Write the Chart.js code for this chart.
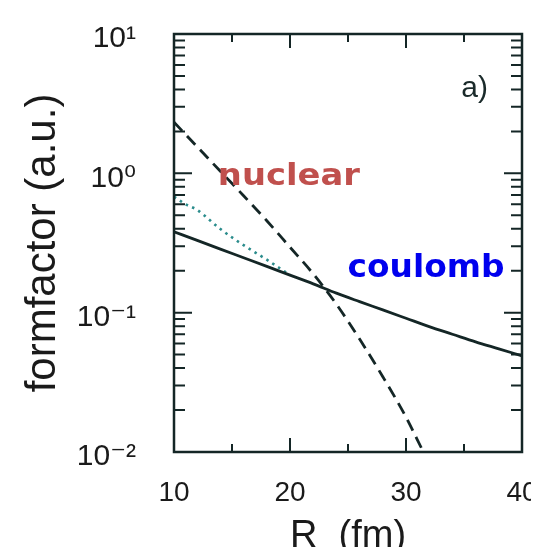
<!DOCTYPE html>
<html lang="en">
<head>
    <meta charset="UTF-8">
    <title>formfactor vs R</title>
    <script src="https://cdn.jsdelivr.net/npm/chart.js@4.4.1/dist/chart.umd.min.js"></script>
    <style>
        html, body { margin: 0; padding: 0; background: #fff; overflow: hidden; }
        #wrap { width: 531px; height: 547px; overflow: hidden; }
    </style>
</head>
<body>
    <div id="wrap"><canvas id="ff" width="542" height="562"></canvas></div>
    <script>
        // values (R in fm, formfactor in a.u.)
        let coulombR = [10, 12, 14, 16, 18, 20, 22, 24, 26, 28, 30, 32, 34, 36, 38, 40];
        let coulombF = [0.381, 0.330, 0.286, 0.248, 0.215, 0.186, 0.161, 0.138, 0.120, 0.1047, 0.0912, 0.0794, 0.0700, 0.0617, 0.0550, 0.0490];

        let dottedR = [10, 11, 12, 14, 16, 18, 20];
        let dottedF = [0.68, 0.60, 0.546, 0.398, 0.305, 0.24, 0.186];

        let nuclearR = [10, 12, 14, 16, 18, 20, 22, 24, 26, 28, 30, 31.5, 32];
        let nuclearF = [2.33, 1.55, 1.035, 0.69, 0.457, 0.295, 0.19, 0.115, 0.0646, 0.0347, 0.0178, 0.010, 0.0083];

        let xTickValues = [10, 20, 30, 40];
        let xTickLabels = ['10', '20', '30', '40'];
        let yTicks = [0.01, 0.02, 0.03, 0.04, 0.05, 0.06, 0.07, 0.08, 0.09,
                      0.1, 0.2, 0.3, 0.4, 0.5, 0.6, 0.7, 0.8, 0.9,
                      1, 2, 3, 4, 5, 6, 7, 8, 9, 10];
        let yMajor = [0.01, 0.1, 1, 10];
        let yMajorLabels = ['10\u207B\u00B2', '10\u207B\u00B9', '10\u2070', '10\u00B9'];

        let ink = '#142626';

        function pts(xs, ys) {
            return xs.map((x, i) => ({x: x, y: ys[i]}));
        }
        function isDecade(v) {
            let l = Math.log10(v);
            return Math.abs(l - Math.round(l)) < 1e-6;
        }
        // keep the plot box where it is in the figure, labels may hang out
        function noPad(s) {
            s.paddingTop = 0; s.paddingBottom = 0;
            s.paddingLeft = 0; s.paddingRight = 0;
        }

        // text placed in data coordinates
        let notes = [
            {text: 'nuclear', x: 13.78, y: 0.824, font: 'bold 31px "DejaVu Sans"', color: '#c0504d', width: 142},
            {text: 'coulomb', x: 24.96, y: 0.180, font: 'bold 32px "DejaVu Sans"', color: '#0000ee', width: 157},
            {text: 'a)', x: 34.76, y: 3.53, font: '30px "Liberation Sans"', color: '#1a2a2a', width: 0}
        ];

        const framePlugin = {
            id: 'frame',
            afterDatasetsDraw(chart) {
                const ctx = chart.ctx;
                const a = chart.chartArea;
                const xs = chart.scales.x, ys = chart.scales.y;
                ctx.save();
                ctx.strokeStyle = ink;
                ctx.lineWidth = 2.5;
                ctx.strokeRect(a.left, a.top, a.right - a.left, a.bottom - a.top);
                ctx.lineWidth = 2;
                ctx.beginPath();
                ys.ticks.forEach(t => {
                    let py = ys.getPixelForValue(t.value);
                    let len = isDecade(t.value) ? 18 : 11;
                    ctx.moveTo(a.left, py); ctx.lineTo(a.left + len, py);
                    ctx.moveTo(a.right, py); ctx.lineTo(a.right - len, py);
                });
                xs.ticks.forEach(t => {
                    let px = xs.getPixelForValue(t.value);
                    let len = t.value % 10 === 0 ? 14 : 8;
                    ctx.moveTo(px, a.bottom); ctx.lineTo(px, a.bottom - len);
                    ctx.moveTo(px, a.top); ctx.lineTo(px, a.top + len);
                });
                ctx.stroke();

                notes.forEach(n => {
                    let px = xs.getPixelForValue(n.x);
                    let py = ys.getPixelForValue(n.y);
                    ctx.font = n.font;
                    ctx.fillStyle = n.color;
                    ctx.textBaseline = 'alphabetic';
                    ctx.textAlign = 'left';
                    let w = ctx.measureText(n.text).width;
                    let sx = n.width ? n.width / w : 1;
                    ctx.save();
                    ctx.translate(px, py);
                    ctx.scale(sx, 1);
                    ctx.fillText(n.text, 0, 0);
                    ctx.restore();
                });
                ctx.restore();
            }
        };

        var ctx = document.getElementById('ff').getContext('2d');
        var myChart = new Chart(ctx, {
            type: 'line',
            data: {
                datasets: [{
                    label: 'coulomb',
                    data: pts(coulombR, coulombF),
                    borderColor: ink,
                    borderWidth: 2.8,
                    pointRadius: 0,
                    cubicInterpolationMode: 'monotone',
                    clip: 0
                },
                {
                    label: 'dotted',
                    data: pts(dottedR, dottedF),
                    borderColor: '#2a8c8c',
                    borderWidth: 2.6,
                    borderDash: [2.5, 4.5],
                    pointRadius: 0,
                    cubicInterpolationMode: 'monotone',
                    clip: 0
                },
                {
                    label: 'nuclear',
                    data: pts(nuclearR, nuclearF),
                    borderColor: ink,
                    borderWidth: 2.8,
                    borderDash: [12, 7],
                    pointRadius: 0,
                    cubicInterpolationMode: 'monotone',
                    clip: 0
                }]
            },
            options: {
                responsive: false,
                animation: false,
                events: [],
                layout: { padding: { left: 0, top: 34, right: 20, bottom: 0 } },
                plugins: { legend: { display: false }, tooltip: { enabled: false } },
                scales: {
                    x: {
                        type: 'linear',
                        min: 10,
                        max: 40,
                        grid: { display: false, drawTicks: false },
                        border: { display: false },
                        ticks: {
                            stepSize: 5,
                            autoSkip: false,
                            maxRotation: 0,
                            padding: 24,
                            color: '#1a1a1a',
                            font: { family: '"Liberation Sans"', size: 28 },
                            callback: v => {
                                let i = xTickValues.indexOf(v);
                                return i >= 0 ? xTickLabels[i] : '';
                            }
                        },
                        title: {
                            display: true,
                            text: 'R  (fm)',
                            color: '#1a1a1a',
                            font: { family: '"Liberation Sans"', size: 38 },
                            padding: { top: 0, bottom: 3 }
                        },
                        afterFit: s => { s.height = 562 - 452; noPad(s); }
                    },
                    y: {
                        type: 'logarithmic',
                        min: 0.01,
                        max: 10,
                        grid: { display: false, drawTicks: false },
                        border: { display: false },
                        afterBuildTicks: s => { s.ticks = yTicks.map(v => ({value: v, major: isDecade(v)})); },
                        ticks: {
                            autoSkip: false,
                            padding: 38,
                            labelOffset: 5,
                            color: '#1a1a1a',
                            font: { family: '"Liberation Sans", "DejaVu Sans"', size: 30 },
                            callback: v => {
                                let i = yMajor.findIndex(m => Math.abs(m - v) < m * 1e-6);
                                return i >= 0 ? yMajorLabels[i] : '';
                            }
                        },
                        title: {
                            display: true,
                            text: 'formfactor (a.u.)',
                            color: '#1a1a1a',
                            font: { family: '"Liberation Sans"', size: 42 },
                            padding: { top: 18, bottom: 0 }
                        },
                        afterFit: s => { s.width = 174; noPad(s); }
                    }
                }
            },
            plugins: [framePlugin]
        });
    </script>
</body>
</html>
